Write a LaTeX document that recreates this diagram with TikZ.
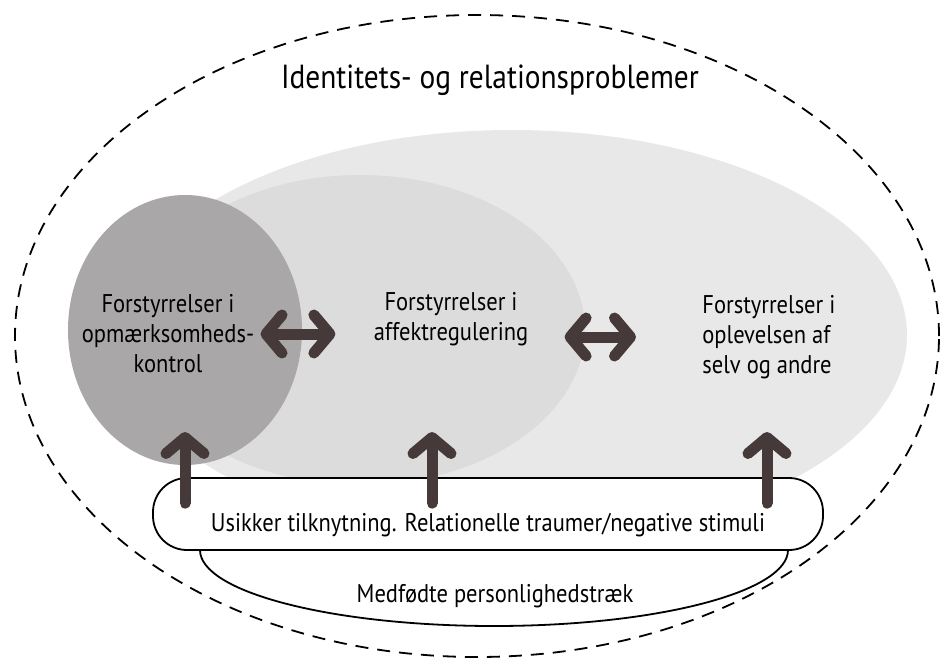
\documentclass[tikz,border=0pt]{standalone}
\usepackage{fontspec}
\setmainfont{PT Sans}[FakeStretch=0.88]
\usetikzlibrary{shapes.geometric,arrows.meta,positioning}

\definecolor{outerfill}{RGB}{233,232,232}
\definecolor{midfill}{RGB}{221,220,220}
\definecolor{darkfill}{RGB}{170,167,168}
\definecolor{arrowcol}{RGB}{70,57,57}

\begin{document}
\begin{tikzpicture}[x=0.5pt,y=-0.5pt,
    blob/.style={ellipse,inner sep=0pt,outer sep=0pt},
    txt/.style={font=\fontsize{12.8}{15}\selectfont,align=center,inner sep=1pt},
    base/.style={draw,line width=0.9pt,fill=white,rounded corners=17pt,
        minimum width=335pt,minimum height=36pt,inner sep=0pt,
        font=\fontsize{12.8}{15}\selectfont},
    fat/.style={arrowcol,line width=5.5pt,line cap=round},
    lift/.style={fat,-{Straight Barb[round,length=8pt,width=19pt]}},
    mutual/.style={fat,{Straight Barb[round,length=8pt,width=19pt]}-{Straight Barb[round,length=8pt,width=19pt]}}]
    \useasboundingbox (0,0) rectangle (947,669);

    % the layers
    \node[blob,draw,line width=0.9pt,dash pattern=on 6.5pt off 4.5pt,
        minimum width=462pt,minimum height=321pt] (frame) at (477,336) {};
    \node[blob,fill=outerfill,minimum width=395pt,minimum height=205pt] (self zone) at (512,335) {};
    \node[blob,fill=midfill,minimum width=225pt,minimum height=155pt] (affect zone) at (360,330) {};
    \node[blob,fill=darkfill,minimum width=117pt,minimum height=135pt] (attn zone) at (185,330) {};

    \node[font=\fontsize{16.7}{20}\selectfont] (title) at (490,80) {Identitets- og relationsproblemer};

    \node[txt] (attn) at (168,334) {Forstyrrelser i\\opmærksomheds-\\kontrol};
    \node[txt] (affect) at (451,319) {Forstyrrelser i\\affektregulering};
    \node[txt,align=left,anchor=west] (self) at (700,337) {Forstyrrelser i\\oplevelsen af\\selv og andre};

    % roots
    \coordinate (lowL) at (200,550);
    \draw[line width=0.9pt] (lowL) arc[start angle=180,end angle=0,x radius=294,y radius=76];
    \node[base,text depth=3pt,text height=12pt] (trauma) at (488,514) {\raisebox{-4pt}{Usikker tilknytning. Relationelle traumer/negative stimuli}};
    \node[txt] (innate) at (495,596) {Medfødte personlighedstræk};

    \coordinate (tipA) at (185,432);
    \coordinate (tipB) at (432,432);
    \coordinate (tipC) at (767,432);
    \draw[lift] ([yshift=-13pt]trauma.north -| tipA) -- (tipA);
    \draw[lift] ([yshift=-13pt]trauma.north -| tipB) -- (tipB);
    \draw[lift] ([yshift=-13pt]trauma.north -| tipC) -- (tipC);

    \draw[mutual,shorten <=2pt,shorten >=18pt] (attn.east) -- (attn.east -| affect.west);
    \draw[mutual,shorten <=17pt,shorten >=32pt] (affect.east |- self.west) -- (self.west);
\end{tikzpicture}
\end{document}
